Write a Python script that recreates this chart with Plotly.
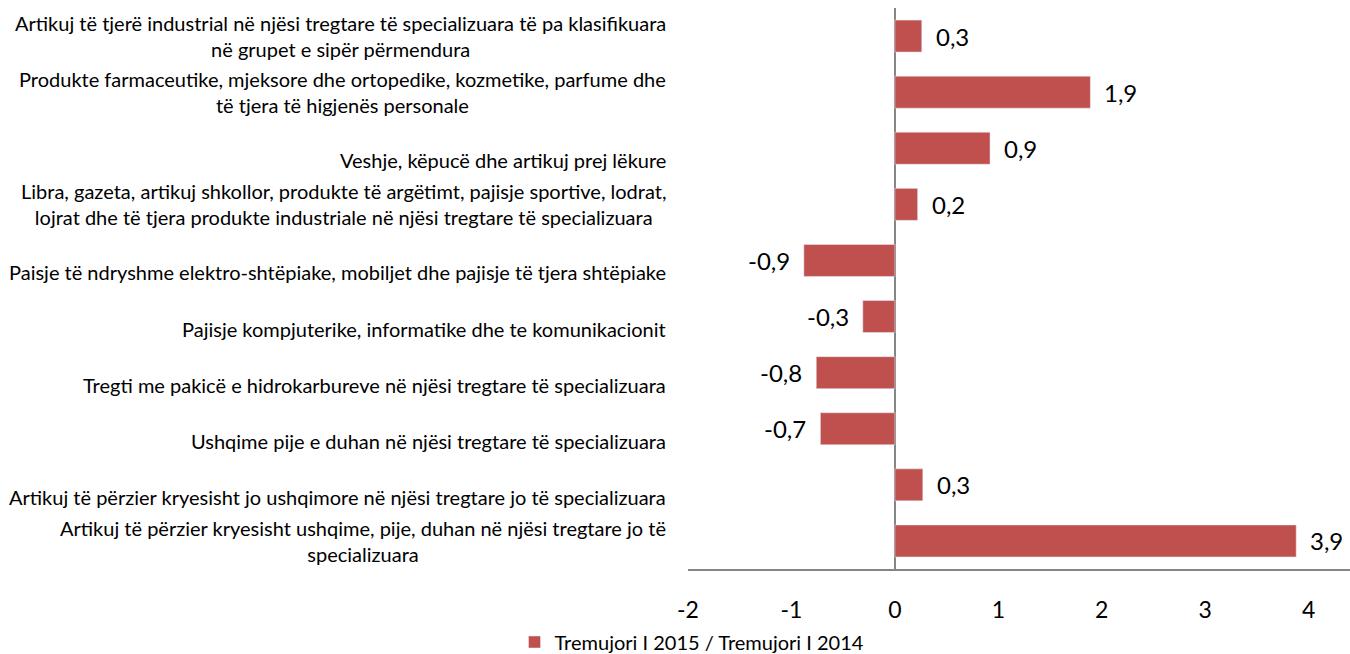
import plotly.graph_objects as go

categories = [
    "Artikuj të tjerë industrial në njësi tregtare të specializuara të pa klasifikuara<br>në grupet e sipër përmendura",
    "Produkte farmaceutike, mjeksore dhe ortopedike, kozmetike, parfume dhe<br>të tjera të higjenës personale",
    "Veshje, këpucë dhe artikuj prej lëkure",
    "Libra, gazeta, artikuj shkollor, produkte të argëtimt, pajisje sportive, lodrat,<br>lojrat dhe të tjera produkte industriale në njësi tregtare të specializuara",
    "Paisje të ndryshme elektro-shtëpiake, mobiljet dhe pajisje të tjera shtëpiake",
    "Pajisje kompjuterike, informatike dhe te komunikacionit",
    "Tregti me pakicë e hidrokarbureve në njësi tregtare të specializuara",
    "Ushqime pije e duhan në njësi tregtare të specializuara",
    "Artikuj të përzier kryesisht jo ushqimore në njësi tregtare jo të specializuara",
    "Artikuj të përzier kryesisht ushqime, pije, duhan në njësi tregtare jo të<br>specializuara",
]
values = [0.26, 1.89, 0.92, 0.22, -0.88, -0.31, -0.76, -0.72, 0.27, 3.88]
value_labels = ["0,3", "1,9", "0,9", "0,2", "-0,9", "-0,3", "-0,8", "-0,7", "0,3", "3,9"]
series_name = "Tremujori I 2015 / Tremujori I 2014"
x_ticks = [-2, -1, 0, 1, 2, 3, 4]

FONT = "Lato"
BAR = "#C0504D"

fig = go.Figure()
fig.add_trace(go.Bar(
    y=categories, x=values, orientation="h", name=series_name,
    marker=dict(color=BAR), width=0.57, showlegend=True,
))

annotations = []
for cat, v, lab in zip(categories, values, value_labels):
    annotations.append(dict(
        x=v, y=cat, xref="x", yref="y", text=lab, showarrow=False,
        xanchor="left" if v >= 0 else "right", xshift=12 if v >= 0 else -12,
        font=dict(family=FONT, size=24, color="#000"),
    ))
    annotations.append(dict(
        x=0, y=cat, xref="paper", yref="y", text=cat, showarrow=False,
        xanchor="right", align="center", xshift=-20,
        yshift=0 if "<br>" in cat else -12,
        font=dict(family=FONT, size=20, color="#000"),
    ))

fig.update_layout(
    width=1350, height=654,
    margin=dict(l=688, r=0, t=8, b=85, autoexpand=False),
    plot_bgcolor="white", paper_bgcolor="white",
    font=dict(family=FONT, color="#000"),
    xaxis=dict(
        range=[-2, 4.4], tickvals=x_ticks, ticktext=[str(t) for t in x_ticks],
        showgrid=False, zeroline=True, zerolinecolor="#868686", zerolinewidth=1.5,
        showline=True, linecolor="#868686", linewidth=1.5,
        ticks="", tickfont=dict(family=FONT, size=23, color="#000"),
        ticklabelstandoff=20,
    ),
    yaxis=dict(
        autorange="reversed", showticklabels=False, showgrid=False,
        zeroline=False, showline=False, ticks="",
    ),
    legend=dict(
        orientation="h", x=692 / 1350, xref="container", xanchor="center",
        y=1 - 642 / 654, yref="container", yanchor="middle",
        bgcolor="rgba(0,0,0,0)", itemwidth=30,
        font=dict(family=FONT, size=20, color="#000"),
    ),
    annotations=annotations,
)

fig.write_html("out.html", config={"displayModeBar": False},
               post_script="document.body.style.margin='0px';")
